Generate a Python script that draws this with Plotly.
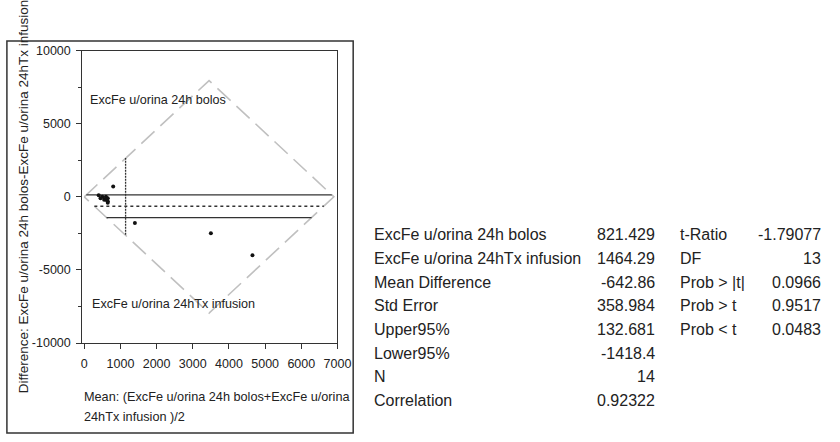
import plotly.graph_objects as go

# Paired measurements (u/orina 24h)
bolos = [1150, 450, 450, 450, 500, 2250, 2650, 500, 600, 400, 550, 600, 500, 500]
infusion = [450, 350, 650, 850, 2300, 4750, 6650, 500, 700, 500, 650, 600, 700, 800]

# Summary statistics of the paired difference
mean_diff = -642.86
upper95 = 132.681
lower95 = -1418.4
mean_of_means = 1142.86
vline_span = [-2600, 2650]

# Rotated frame of the original axes (mean, difference)
diamond_mean = [0, 3450, 6900, 3450, 0]
diamond_diff = [0, 7950, 0, -7950, 0]

x_ticks = [0, 1000, 2000, 3000, 4000, 5000, 6000, 7000]
y_ticks = [-10000, -5000, 0, 5000, 10000]

stat_labels = ["ExcFe u/orina 24h bolos", "ExcFe u/orina 24hTx infusion",
               "Mean Difference", "Std Error", "Upper95%", "Lower95%",
               "N", "Correlation"]
stat_values = ["821.429", "1464.29", "-642.86", "358.984", "132.681",
               "-1418.4", "14", "0.92322"]
test_labels = ["t-Ratio", "DF", "Prob > |t|", "Prob > t", "Prob < t"]
test_values = ["-1.79077", "13", "0.0966", "0.9517", "0.0483"]

means = [(b + i) / 2 for b, i in zip(bolos, infusion)]
diffs = [b - i for b, i in zip(bolos, infusion)]

W, H = 840, 442
FONT = "Arial, Liberation Sans, sans-serif"
INK = "#222222"


def px(x):
    return x / W


def py(y):
    return 1 - y / H


def span_in_diamond(v):
    """Horizontal extent of the rotated frame at difference value v."""
    half = diamond_mean[1] - diamond_mean[0]
    top = diamond_diff[1]
    left = diamond_mean[0] + half * abs(v) / top
    right = diamond_mean[2] - half * abs(v) / top
    return [left, right]


fig = go.Figure()

fig.add_trace(go.Scatter(
    x=diamond_mean, y=diamond_diff, mode="lines",
    line=dict(color="#c0c0c0", width=1.6, dash="18px,8px"),
    hoverinfo="skip", showlegend=False))

for v, dash, w in [(upper95, "solid", 1.3), (mean_diff, "dot", 1.4),
                   (lower95, "solid", 1.3)]:
    fig.add_trace(go.Scatter(
        x=span_in_diamond(v), y=[v, v], mode="lines",
        line=dict(color="#333333", width=w, dash=dash),
        hoverinfo="skip", showlegend=False))

fig.add_trace(go.Scatter(
    x=[mean_of_means, mean_of_means], y=vline_span, mode="lines",
    line=dict(color="#333333", width=1.3, dash="2px,1px"),
    hoverinfo="skip", showlegend=False))

fig.add_trace(go.Scatter(
    x=means, y=diffs, mode="markers",
    marker=dict(color="#111111", size=4),
    showlegend=False))

annotations = [
    dict(x=100, y=6600, xref="x", yref="y", text="ExcFe u/orina 24h bolos",
         showarrow=False, xanchor="left", yanchor="middle",
         font=dict(size=12.6, color=INK, family=FONT)),
    dict(x=150, y=-7300, xref="x", yref="y", text="ExcFe u/orina 24hTx infusion",
         showarrow=False, xanchor="left", yanchor="middle",
         font=dict(size=12.6, color=INK, family=FONT)),
    dict(x=px(22), y=py(196), xref="paper", yref="paper",
         text="Difference: ExcFe u/orina 24h bolos-ExcFe u/orina 24hTx infusion",
         textangle=-90, showarrow=False, xanchor="center", yanchor="middle",
         font=dict(size=13.5, color=INK, family=FONT)),
    dict(x=px(82), y=py(403), xref="paper", yref="paper",
         text="Mean: (ExcFe u/orina 24h bolos+ExcFe u/orina",
         showarrow=False, xanchor="left", yanchor="middle",
         font=dict(size=12.7, color=INK, family=FONT)),
    dict(x=px(82), y=py(423), xref="paper", yref="paper",
         text="24hTx infusion )/2",
         showarrow=False, xanchor="left", yanchor="middle",
         font=dict(size=12.7, color=INK, family=FONT)),
]

row_y0, row_dy = 235, 24.5
TABLE_SIZE = 16
for k, (lab, val) in enumerate(zip(stat_labels, stat_values)):
    yy = row_y0 + k * row_dy
    annotations.append(dict(x=px(377), y=py(yy), xref="paper", yref="paper",
                            text=lab, showarrow=False, xanchor="left", yanchor="middle",
                            font=dict(size=TABLE_SIZE, color=INK, family=FONT)))
    annotations.append(dict(x=px(668), y=py(yy), xref="paper", yref="paper",
                            text=val, showarrow=False, xanchor="right", yanchor="middle",
                            font=dict(size=TABLE_SIZE, color=INK, family=FONT)))
for k, (lab, val) in enumerate(zip(test_labels, test_values)):
    yy = row_y0 + k * row_dy
    annotations.append(dict(x=px(689), y=py(yy), xref="paper", yref="paper",
                            text=lab, showarrow=False, xanchor="left", yanchor="middle",
                            font=dict(size=TABLE_SIZE, color=INK, family=FONT)))
    annotations.append(dict(x=px(837), y=py(yy), xref="paper", yref="paper",
                            text=val, showarrow=False, xanchor="right", yanchor="middle",
                            font=dict(size=TABLE_SIZE, color=INK, family=FONT)))

fig.update_layout(
    width=W, height=H,
    margin=dict(l=0, r=0, t=0, b=0),
    paper_bgcolor="white", plot_bgcolor="white",
    font=dict(family=FONT, color=INK),
    annotations=annotations,
    shapes=[dict(type="rect", xref="paper", yref="paper",
                 x0=px(5), x1=px(358), y0=py(440), y1=py(35),
                 line=dict(color="#333333", width=1.5))],
    xaxis=dict(domain=[px(82), px(342)], range=[-50, 7000],
               tickvals=x_ticks, ticktext=[str(v) for v in x_ticks],
               ticks="outside", ticklen=5, tickcolor="#333", showgrid=False,
               ticklabelstandoff=4,
               zeroline=False, showline=True, linecolor="#333", linewidth=1.3,
               mirror=True, tickfont=dict(size=12.5, color=INK, family=FONT)),
    yaxis=dict(domain=[py(347), py(45)], range=[-10000, 10000],
               tickvals=y_ticks, ticktext=[str(v) for v in y_ticks],
               ticks="outside", ticklen=5, tickcolor="#333", showgrid=False,
               ticklabelstandoff=3,
               zeroline=False, showline=True, linecolor="#333", linewidth=1.3,
               mirror=True, tickfont=dict(size=12.5, color=INK, family=FONT),
               minor=dict(tickvals=[-7500, -2500, 2500, 7500], ticks="outside",
                          ticklen=3, tickcolor="#333")),
)

fig.write_html("out.html")
